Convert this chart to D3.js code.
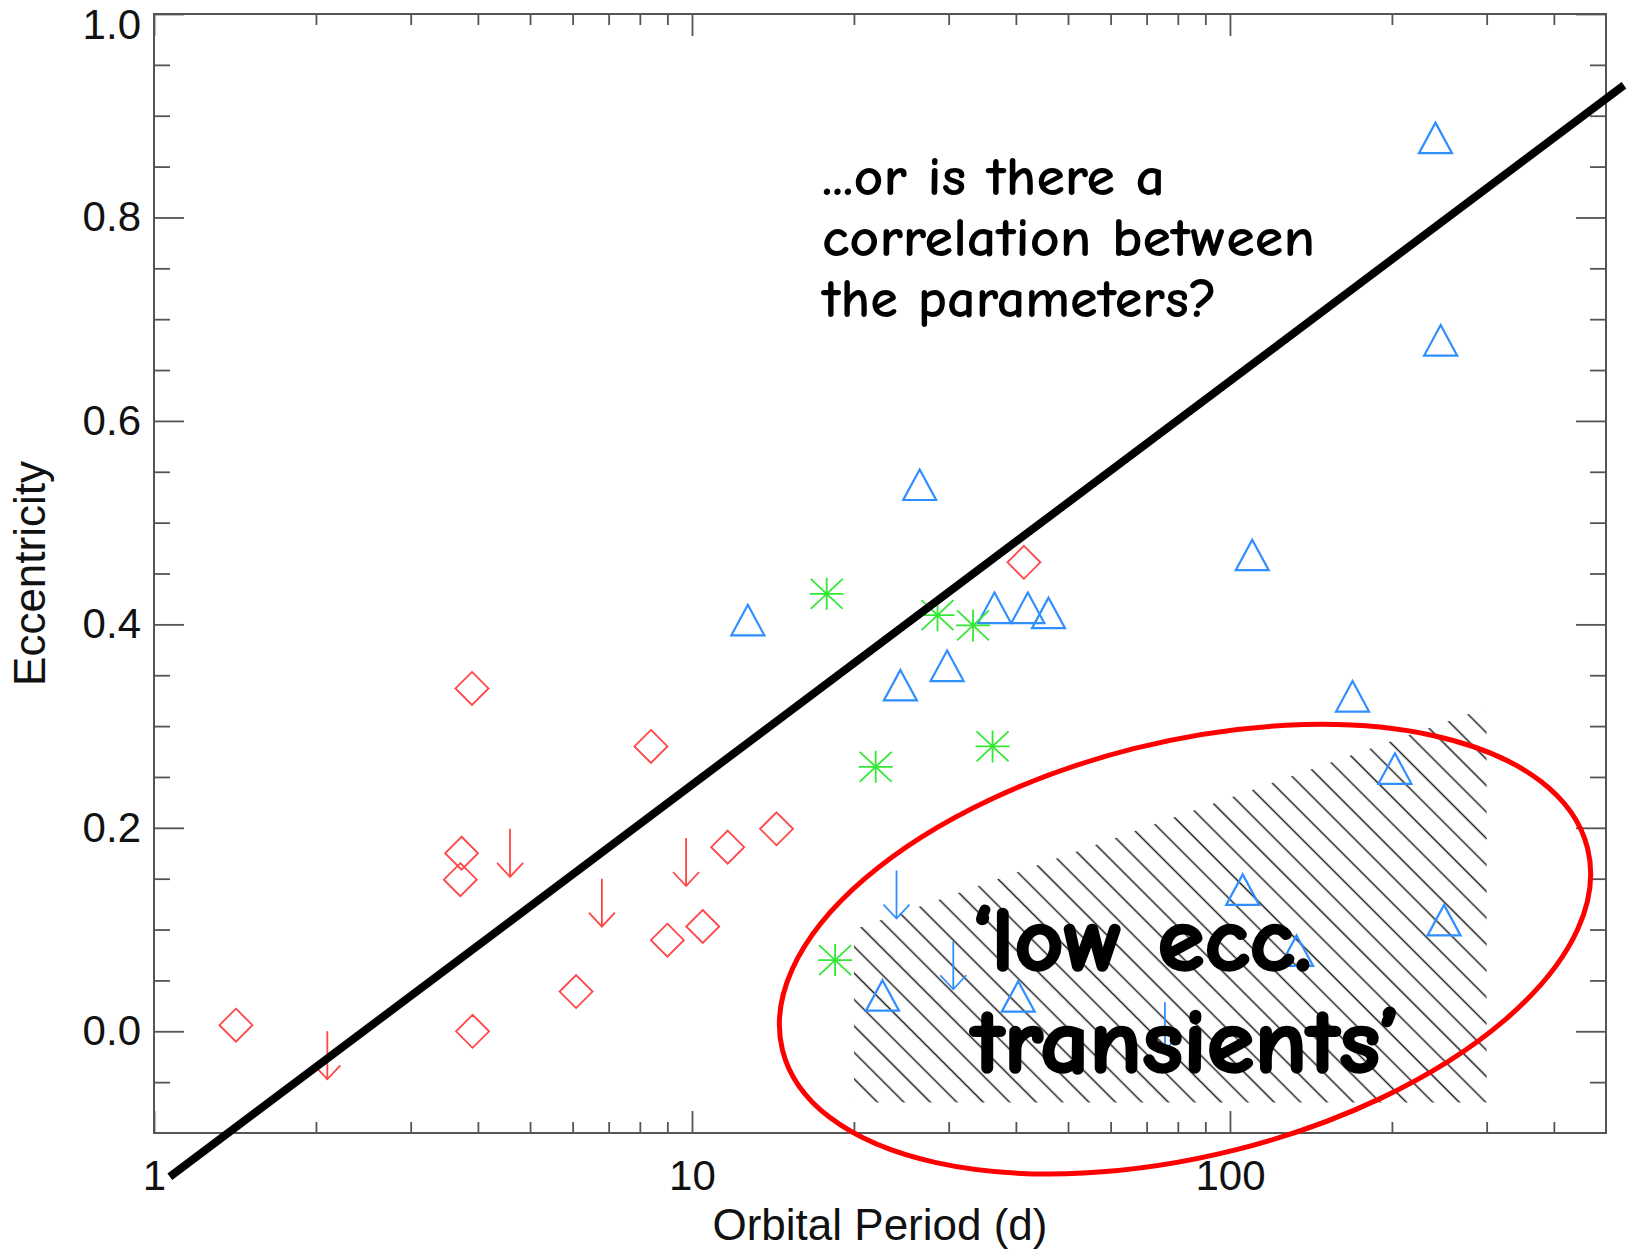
<!DOCTYPE html>
<html>
<head>
<meta charset="utf-8">
<script src="https://cdn.jsdelivr.net/npm/d3@7"></script>
<style>
  html, body { margin: 0; padding: 0; background: #fff; }
  svg { display: block; }
</style>
</head>
<body>
<svg id="chart" width="1630" height="1250"></svg>
<script>
// ---- Data: orbital period (days) vs eccentricity ----
// red diamonds
const diamondPeriod = [1.42, 3.90, 3.73, 3.71, 3.91, 8.39, 6.09, 9.0, 10.47, 11.65, 14.36, 41.4];
const diamondEcc    = [0.006, 0.337, 0.175, 0.149, 0.0, 0.280, 0.039, 0.0895, 0.103, 0.181, 0.199, 0.461];
// red upper limits
const redLimitPeriod = [2.10, 4.59, 6.80, 9.75];
const redLimitEcc    = [0.0, 0.199, 0.150, 0.190];
// blue triangles
const trianglePeriod = [241, 246.4, 26.5, 110, 12.7, 36.5, 42.1, 46.0, 24.4, 29.8, 169, 202.6, 105.6, 250, 133, 22.6, 40.4];
const triangleEcc    = [0.878, 0.679, 0.537, 0.468, 0.404, 0.416, 0.416, 0.411, 0.340, 0.359, 0.329, 0.258, 0.139, 0.109, 0.079, 0.035, 0.034];
// blue upper limits
const blueLimitPeriod = [24.0, 30.6, 75.7];
const blueLimitEcc    = [0.158, 0.0885, 0.0285];
// green asterisks
const starPeriod = [17.8, 28.6, 33.3, 21.95, 36.2, 18.45];
const starEcc    = [0.430, 0.409, 0.399, 0.260, 0.280, 0.070];
// suggested period-eccentricity trend
const trendPeriod = [1.07, 540];
const trendEcc    = [-0.143, 0.930];
// hatched "low ecc. transients" zone (corners)
const zonePeriod = [20, 20, 300, 300];
const zoneEcc    = [-0.07, 0.10, 0.318, -0.07];
// ellipse around the zone: centre in data units
const ringPeriod = 82.5;
const ringEcc = 0.0807;

// ---- Ticks ----
const xMajorTicks = [1, 10, 100];
const xTickLabels = ["1", "10", "100"];
const xMinorTicks = [2, 3, 4, 5, 6, 7, 8, 9, 20, 30, 40, 50, 60, 70, 80, 90, 200, 300, 400];
const yMajorTicks = [0.0, 0.2, 0.4, 0.6, 0.8, 1.0];
const yTickLabels = ["0.0", "0.2", "0.4", "0.6", "0.8", "1.0"];
const yMinorTicks = [-0.05, 0.05, 0.1, 0.15, 0.25, 0.3, 0.35, 0.45, 0.5, 0.55, 0.65, 0.7, 0.75, 0.85, 0.9, 0.95];

// ---- Layout ----
const plotLeft = 154, plotRight = 1606, plotTop = 14, plotBottom = 1133;
const svg = d3.select("#chart");

const x = d3.scaleLog().domain([1, 500]).range([plotLeft, plotRight]);
const y = d3.scaleLinear().domain([-0.1, 1.0]).range([plotBottom, plotTop]);

const axisColor = "#555";
const tickFont = "'Liberation Sans', Arial, Helvetica, sans-serif";
const red = "#ff4545", blue = "#2f8fff", green = "#33e833";

// ---- Hatched zone ----
const defs = svg.append("defs");
const hatchGap = 18.7;
const pat = defs.append("pattern")
  .attr("id", "hatch")
  .attr("patternUnits", "userSpaceOnUse")
  .attr("width", hatchGap).attr("height", hatchGap)
  .attr("patternTransform", "rotate(-45)");
pat.append("line")
  .attr("x1", hatchGap / 2).attr("y1", 0)
  .attr("x2", hatchGap / 2).attr("y2", hatchGap)
  .attr("stroke", "#1c1c1c").attr("stroke-width", 1.5);

const zone = zonePeriod.map((p, i) => [x(p), y(zoneEcc[i])]);
svg.append("path")
  .attr("d", d3.line()(zone) + "Z")
  .attr("fill", "url(#hatch)")
  .attr("stroke", "none");

// ---- Axes ----
function styleAxis(g) {
  g.select(".domain").remove();
  g.selectAll(".tick line").attr("stroke", axisColor).attr("stroke-width", 1.8);
  g.selectAll(".tick text")
    .attr("fill", "#111")
    .style("font-family", tickFont)
    .style("font-size", "42px");
}

svg.append("g").attr("transform", `translate(${plotLeft},0)`)
  .call(d3.axisLeft(y).tickValues(yMajorTicks).tickSize(-30).tickPadding(13)
    .tickFormat((d, i) => yTickLabels[i]))
  .call(styleAxis)
  // the top label sits a little below its tick so it stays inside the page
  .call(g => g.selectAll(".tick text").filter(d => d === 1.0).attr("dy", "0.58em"));
svg.append("g").attr("transform", `translate(${plotLeft},0)`)
  .call(d3.axisLeft(y).tickValues(yMinorTicks).tickSize(-16).tickFormat(""))
  .call(styleAxis);
svg.append("g").attr("transform", `translate(${plotRight},0)`)
  .call(d3.axisRight(y).tickValues(yMajorTicks).tickSize(-30).tickFormat(""))
  .call(styleAxis);
svg.append("g").attr("transform", `translate(${plotRight},0)`)
  .call(d3.axisRight(y).tickValues(yMinorTicks).tickSize(-16).tickFormat(""))
  .call(styleAxis);

svg.append("g").attr("transform", `translate(0,${plotBottom})`)
  .call(d3.axisBottom(x).tickValues(xMajorTicks).tickSize(-22).tickPadding(27)
    .tickFormat((d, i) => xTickLabels[i]))
  .call(styleAxis);
svg.append("g").attr("transform", `translate(0,${plotBottom})`)
  .call(d3.axisBottom(x).tickValues(xMinorTicks).tickSize(-11).tickFormat(""))
  .call(styleAxis);
svg.append("g").attr("transform", `translate(0,${plotTop})`)
  .call(d3.axisTop(x).tickValues(xMajorTicks).tickSize(-22).tickFormat(""))
  .call(styleAxis);
svg.append("g").attr("transform", `translate(0,${plotTop})`)
  .call(d3.axisTop(x).tickValues(xMinorTicks).tickSize(-11).tickFormat(""))
  .call(styleAxis);

svg.append("rect")
  .attr("x", plotLeft).attr("y", plotTop)
  .attr("width", plotRight - plotLeft).attr("height", plotBottom - plotTop)
  .attr("fill", "none").attr("stroke", axisColor).attr("stroke-width", 2);

// axis titles
svg.append("text")
  .attr("x", (plotLeft + plotRight) / 2).attr("y", 1240)
  .attr("text-anchor", "middle")
  .style("font-family", tickFont).style("font-size", "44px").attr("fill", "#111")
  .text("Orbital Period (d)");
svg.append("text")
  .attr("transform", `translate(45,${(plotTop + plotBottom) / 2}) rotate(-90)`)
  .attr("text-anchor", "middle")
  .style("font-family", tickFont).style("font-size", "44px").attr("fill", "#111")
  .text("Eccentricity");

// ---- Markers ----
const marks = svg.append("g").attr("fill", "none");

// diamonds
marks.selectAll(".diamond").data(diamondPeriod).join("path")
  .attr("class", "diamond")
  .attr("transform", (p, i) => `translate(${x(p)},${y(diamondEcc[i])})`)
  .attr("d", "M0,-16.5L16.5,0L0,16.5L-16.5,0Z")
  .attr("stroke", red).attr("stroke-width", 1.8);

// triangles
marks.selectAll(".tri").data(trianglePeriod).join("path")
  .attr("class", "tri")
  .attr("transform", (p, i) => `translate(${x(p)},${y(triangleEcc[i])})`)
  .attr("d", "M0,-15.5L16.5,15L-16.5,15Z")
  .attr("stroke", blue).attr("stroke-width", 2.2);

// asterisks
marks.selectAll(".star").data(starPeriod).join("path")
  .attr("class", "star")
  .attr("transform", (p, i) => `translate(${x(p)},${y(starEcc[i])})`)
  .attr("d", "M-17,0L17,0M0,-16L0,16M-16,-15L16,15M-16,15L16,-15")
  .attr("stroke", green).attr("stroke-width", 1.8);

// upper-limit arrows
const arrowPath = "M0,0L0,48M-13,34L0,48L13,34";
marks.selectAll(".rlim").data(redLimitPeriod).join("path")
  .attr("class", "rlim")
  .attr("transform", (p, i) => `translate(${x(p)},${y(redLimitEcc[i])})`)
  .attr("d", arrowPath)
  .attr("stroke", red).attr("stroke-width", 1.8);
marks.selectAll(".blim").data(blueLimitPeriod).join("path")
  .attr("class", "blim")
  .attr("transform", (p, i) => `translate(${x(p)},${y(blueLimitEcc[i])})`)
  .attr("d", arrowPath)
  .attr("stroke", blue).attr("stroke-width", 1.8);

// ---- Trend line ----
svg.append("path")
  .attr("d", d3.line()(trendPeriod.map((p, i) => [x(p), y(trendEcc[i])])))
  .attr("stroke", "#000").attr("stroke-width", 8).attr("fill", "none");

// ---- Annotations ----
const handFont = "'Comic Sans MS', 'Comic Neue', 'DejaVu Sans', sans-serif";
const question = [
  { t: "...or is there a", y: 195, w: 343 },
  { t: "correlation between", y: 256, w: 493 },
  { t: "the parameters?", y: 317, w: 395 }
];
svg.append("g").selectAll("text").data(question).join("text")
  .attr("x", 822).attr("y", d => d.y)
  .attr("textLength", d => d.w).attr("lengthAdjust", "spacingAndGlyphs")
  .style("font-family", handFont).style("font-size", "55px").style("font-weight", "bold")
  .attr("fill", "#000")
  .text(d => d.t);

const zoneLabel = [
  { t: "\u2018low  ecc.", y: 970, w: 340 },
  { t: "transients\u2019", y: 1072, w: 428 }
];
svg.append("g").selectAll("text").data(zoneLabel).join("text")
  .attr("x", 972).attr("y", d => d.y)
  .attr("textLength", d => d.w).attr("lengthAdjust", "spacingAndGlyphs")
  .style("font-family", handFont).style("font-size", "92px").style("font-weight", "bold")
  .style("stroke", "#000").style("stroke-width", 2.5).style("paint-order", "stroke")
  .attr("fill", "#000")
  .text(d => d.t);

// ---- Ring around the hatched zone ----
const cx = x(ringPeriod), cy = y(ringEcc);
svg.append("ellipse")
  .attr("cx", cx).attr("cy", cy)
  .attr("rx", 415).attr("ry", 207)
  .attr("transform", `rotate(-14.1 ${cx} ${cy})`)
  .attr("fill", "none").attr("stroke", "#ff0000").attr("stroke-width", 5);
</script>
</body>
</html>
